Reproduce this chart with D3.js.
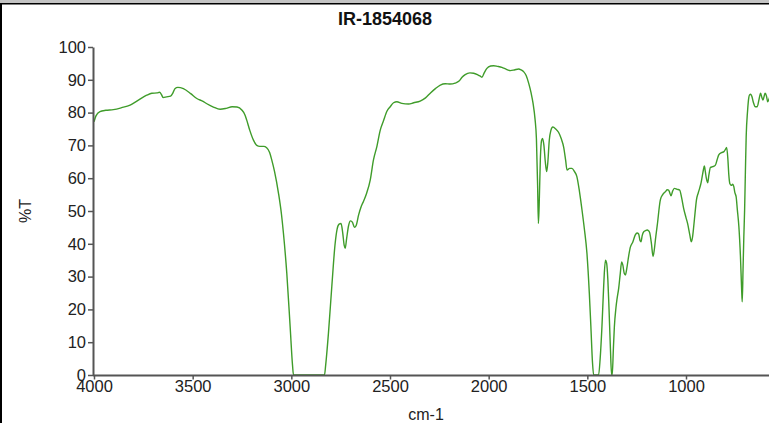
<!DOCTYPE html>
<html>
<head>
<meta charset="utf-8">
<script src="https://cdn.jsdelivr.net/npm/d3@7"></script>
<style>
  html, body { margin: 0; padding: 0; background: #fff; }
  svg { display: block; font-family: "Liberation Sans", Arial, sans-serif; }
</style>
</head>
<body>
<svg id="chart" width="769" height="423"></svg>
<script>
const title = "IR-1854068";
const xLabel = "cm-1";
const yLabel = "%T";
const xTicks = [4000, 3500, 3000, 2500, 2000, 1500, 1000];
const yTicks = [0, 10, 20, 30, 40, 50, 60, 70, 80, 90, 100];

const wavenumber = [4000,3990,3970,3940,3902,3860,3817,3775,3733,3707,3680,3668,3658,3650,3632,3612,3600,3590,3575,3547,3510,3479,3450,3428,3395,3361,3330,3300,3275,3251,3235,3226,3210,3192,3175,3160,3140,3125,3110,3099,3085,3065,3050,3040,3023,3006,2994,2989,2832,2826,2812,2795,2778,2768,2758,2748,2740,2732,2727,2720,2710,2700,2690,2680,2672,2659,2645,2634,2618,2600,2584,2566,2550,2533,2515,2499,2482,2465,2440,2406,2380,2347,2320,2296,2270,2245,2220,2195,2170,2150,2135,2119,2095,2076,2055,2040,2034,2022,2009,1990,1975,1955,1933,1910,1890,1870,1848,1835,1823,1810,1797,1785,1775,1765,1758,1752,1748,1744,1738,1732,1727,1720,1713,1706,1700,1693,1685,1675,1660,1646,1632,1620,1610,1603,1590,1578,1565,1553,1540,1527,1515,1502,1490,1482,1474,1468,1443,1435,1426,1418,1414,1408,1402,1396,1390,1383,1377,1374,1368,1363,1355,1350,1341,1333,1326,1320,1313,1307,1300,1290,1282,1270,1257,1248,1240,1233,1228,1222,1214,1205,1197,1190,1184,1175,1167,1160,1155,1145,1130,1118,1104,1095,1088,1082,1076,1068,1059,1045,1032,1022,1012,1000,992,980,973,967,961,954,947,938,931,924,918,912,907,902,897,890,884,876,865,851,843,834,820,808,800,794,788,783,778,770,763,758,752,746,740,732,724,718,715,711,707,703,699,695,688,682,678,672,666,658,649,639,630,622,615,610,604,599,592,586,580,574,570];
const transmittance = [77.2,79.0,80.3,80.7,80.9,81.5,82.3,83.8,85.3,85.9,86.0,86.2,85.5,84.6,84.8,85.0,86.0,87.3,87.7,87.3,85.8,84.3,83.5,82.7,81.7,81.0,81.3,81.8,81.7,80.8,79.3,77.7,74.5,71.6,70.0,69.7,69.7,69.3,67.8,65.5,62.0,55.4,49.0,43.2,31.0,14.7,3.0,0,0,3.0,12.7,26.9,40.1,44.5,46.0,46.2,43.5,39.5,38.6,41.5,45.5,47.0,46.5,45.0,45.5,48.8,51.5,53.0,55.5,59.5,65.5,69.8,74.5,77.5,80.5,81.8,83.0,83.3,82.8,82.6,83.0,83.5,84.5,85.9,87.3,88.4,88.8,88.7,89.0,89.6,90.8,91.6,92.1,92.0,91.5,91.0,90.8,92.2,93.5,94.2,94.3,94.1,93.8,93.2,92.8,93.0,93.3,93.0,92.5,91.3,88.9,86.0,82.8,78.0,72.0,58.0,46.2,52.0,66.0,71.5,72.1,70.0,65.0,62.0,65.0,71.5,74.5,75.6,75.0,74.0,72.0,69.5,65.5,62.5,63.0,63.0,62.0,60.5,56.0,50.3,44.5,37.1,25.0,14.7,4.0,0,0,5.0,14.7,26.0,31.0,35.0,34.0,29.0,20.0,8.0,0,0,8.0,14.7,20.5,23.0,26.5,31.0,34.5,33.5,31.0,30.5,32.5,36.5,39.0,40.5,42.7,43.3,43.0,41.0,40.6,42.5,43.7,44.0,44.2,44.0,43.4,40.0,36.1,38.5,41.2,46.0,53.4,55.0,55.9,56.5,56.4,55.5,54.6,56.0,56.9,56.6,56.4,54.0,50.8,48.0,46.2,42.5,40.6,42.0,45.2,49.5,53.4,55.5,56.9,58.5,60.5,62.5,63.7,62.0,60.0,58.6,61.0,63.3,63.5,64.0,65.5,67.1,67.8,68.1,68.8,69.4,66.0,61.0,58.4,57.8,58.2,57.5,55.5,54.4,50.5,45.2,36.0,26.0,22.3,32.0,42.0,50.3,62.0,72.7,80.5,84.5,85.4,85.6,84.9,83.0,81.8,81.8,84.0,85.9,84.5,83.8,85.0,85.9,85.0,83.3,84.0,84.9,85.0];

const data = wavenumber.map((w, i) => ({ w, t: transmittance[i] }));

const svg = d3.select("#chart");
const W = 769, H = 423;

// frame
svg.append("rect").attr("x", 0).attr("y", 0).attr("width", W).attr("height", 3).attr("fill", "#c4c4c4");
svg.append("line").attr("x1", 0).attr("x2", W).attr("y1", 3.75).attr("y2", 3.75).attr("stroke", "#000").attr("stroke-width", 1.5);
svg.append("line").attr("x1", 1).attr("x2", 1).attr("y1", 3).attr("y2", H).attr("stroke", "#000").attr("stroke-width", 2);

const x = d3.scaleLinear().domain([4000, 1000]).range([94, 686]);
const y = d3.scaleLinear().domain([0, 100]).range([375, 47]);

svg.append("defs").append("clipPath").attr("id", "clip")
  .append("rect").attr("x", 93).attr("y", 0).attr("width", W - 93).attr("height", 377);

// line
const line = d3.line().x(d => x(d.w)).y(d => y(d.t)).curve(d3.curveMonotoneX);
svg.append("path").datum(data)
  .attr("clip-path", "url(#clip)")
  .attr("fill", "none").attr("stroke", "#3f9c2a").attr("stroke-width", 1.4)
  .attr("d", line);

// axes
const yAxis = svg.append("g").attr("transform", "translate(93,0)")
  .call(d3.axisLeft(y).tickValues(yTicks).tickFormat(d3.format("d")).tickSize(5).tickPadding(2).tickSizeOuter(0));
const xAxisG = svg.append("g").attr("transform", "translate(0,375.5)")
  .call(d3.axisBottom(x).tickValues(xTicks).tickFormat(d3.format("d")).tickSize(4).tickPadding(1).tickSizeOuter(0));

// extend x axis domain line to the right edge
xAxisG.select(".domain").attr("d", `M93,0H${W}`);

[yAxis, xAxisG].forEach(g => {
  g.select(".domain").attr("stroke", "#555").attr("stroke-width", 2);
  g.selectAll(".tick line").attr("stroke", "#555").attr("stroke-width", 1.5);
  g.selectAll(".tick text").attr("fill", "#222").attr("font-size", 16.5)
    .attr("font-family", "'Liberation Sans', Arial, sans-serif");
});

// title
svg.append("text").attr("x", 385).attr("y", 25).attr("text-anchor", "middle")
  .attr("font-size", 18).attr("font-weight", "bold").attr("fill", "#111").text(title);

// axis labels
svg.append("text").attr("x", 426).attr("y", 420).attr("text-anchor", "middle")
  .attr("font-size", 16).attr("fill", "#222").text(xLabel);
svg.append("text").attr("transform", "translate(31,211) rotate(-90)").attr("text-anchor", "middle")
  .attr("font-size", 16).attr("fill", "#222").text(yLabel);
</script>
</body>
</html>
